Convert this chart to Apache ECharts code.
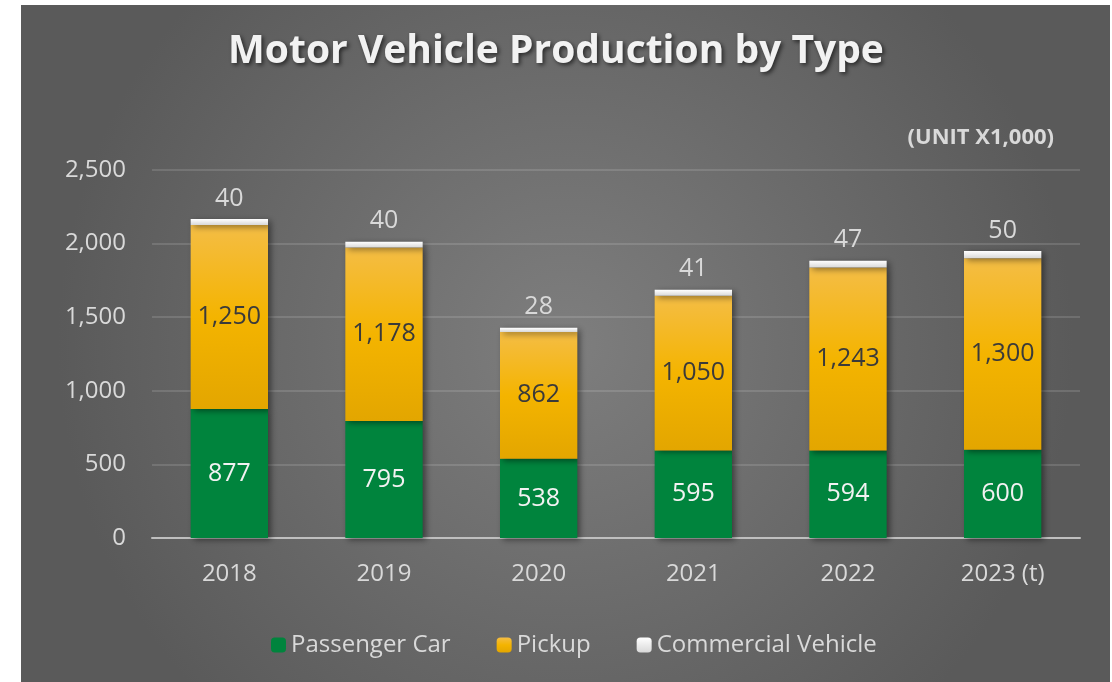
<!DOCTYPE html>
<html lang="en">
<head>
    <meta charset="UTF-8">
    <title>Motor Vehicle Production by Type</title>
    <script src="https://cdn.jsdelivr.net/npm/echarts@6/dist/echarts.min.js"></script>
    <style>
        html, body { margin: 0; padding: 0; background: #fff; }
    </style>
</head>
<body>
    <div id="main" style="width:1112px;height:682px;"></div>

<script>

var categories = ['2018', '2019', '2020', '2021', '2022', '2023 (t)'];
var passengerCar = [877, 795, 538, 595, 594, 600];
var pickup = [1250, 1178, 862, 1050, 1243, 1300];
var commercial = [40, 40, 28, 41, 47, 50];
var yTicks = [0, 500, 1000, 1500, 2000, 2500];

var FONT = 'Open Sans';
var LIGHT = '#d9d9d9';

var barShadow = {
    shadowColor: 'rgba(0,0,0,0.45)',
    shadowBlur: 6,
    shadowOffsetX: 3,
    shadowOffsetY: 2
};

function fmt(v) {
    return v.toLocaleString('en-US');
}

var myChart = echarts.init(document.getElementById('main'));

myChart.setOption({
    backgroundColor: '#ffffff',
    textStyle: { fontFamily: FONT },
    graphic: [{
        type: 'rect',
        z: -10,
        silent: true,
        shape: { x: 21, y: 5, width: 1089, height: 677 },
        style: {
            fill: new echarts.graphic.RadialGradient(0.5, 0.5, 0.75, [
                { offset: 0, color: '#7e7e7e' },
                { offset: 1, color: '#5a5a5a' }
            ])
        }
    }, {
        type: 'text',
        right: 58,
        top: 127,
        style: {
            text: '(UNIT X1,000)',
            fill: LIGHT,
            font: 'bold 22px "Open Sans"'
        }
    }],
    title: {
        text: 'Motor Vehicle Production by Type',
        left: 'center',
        top: 27,
        textStyle: {
            color: '#f2f2f2',
            fontSize: 39,
            fontWeight: 'bold',
            fontFamily: FONT,
            textShadowColor: 'rgba(0,0,0,0.6)',
            textShadowBlur: 4,
            textShadowOffsetX: 2,
            textShadowOffsetY: 2
        }
    },
    legend: {
        bottom: 20,
        left: 266,
        itemWidth: 15,
        itemHeight: 15,
        itemGap: 46,
        textStyle: { color: LIGHT, fontSize: 24, fontFamily: FONT },
        data: ['Passenger Car', 'Pickup', 'Commercial Vehicle']
    },
    grid: {
        left: 152,
        right: 32,
        top: 170,
        bottom: 144
    },
    xAxis: {
        type: 'category',
        data: categories,
        axisTick: { show: false },
        axisLine: { lineStyle: { color: '#bfbfbf', width: 2 } },
        axisLabel: { color: LIGHT, fontSize: 24, margin: 24, fontFamily: FONT }
    },
    yAxis: {
        type: 'value',
        min: yTicks[0],
        max: yTicks[yTicks.length - 1],
        interval: 500,
        axisLine: { show: false },
        axisTick: { show: false },
        axisLabel: {
            color: LIGHT,
            fontSize: 24,
            margin: 26,
            fontFamily: FONT,
            formatter: function (v) { return fmt(v); }
        },
        splitLine: { lineStyle: { color: 'rgba(255,255,255,0.13)', width: 2 } }
    },
    series: [{
        name: 'Passenger Car',
        type: 'bar',
        stack: 'total',
        barWidth: '50%',
        data: passengerCar,
        itemStyle: Object.assign({ color: '#00843d' }, barShadow),
        label: {
            show: true,
            position: 'inside',
            color: '#f2f2f2',
            fontSize: 25,
            fontFamily: FONT,
            formatter: function (p) { return fmt(p.value); }
        }
    }, {
        name: 'Pickup',
        type: 'bar',
        stack: 'total',
        data: pickup,
        itemStyle: Object.assign({
            color: new echarts.graphic.LinearGradient(0, 0, 0, 1, [
                { offset: 0, color: '#f4bd45' },
                { offset: 0.5, color: '#f4b400' },
                { offset: 1, color: '#e3a600' }
            ])
        }, barShadow),
        label: {
            show: true,
            position: 'inside',
            color: '#3a3a3a',
            fontSize: 25,
            fontFamily: FONT,
            formatter: function (p) { return fmt(p.value); }
        }
    }, {
        name: 'Commercial Vehicle',
        type: 'bar',
        stack: 'total',
        data: commercial,
        itemStyle: Object.assign({
            color: new echarts.graphic.LinearGradient(0, 0, 0, 1, [
                { offset: 0, color: '#ffffff' },
                { offset: 1, color: '#d8d8d8' }
            ])
        }, barShadow),
        label: {
            show: true,
            position: 'top',
            distance: 8,
            color: LIGHT,
            fontSize: 25,
            fontFamily: FONT,
            formatter: function (p) { return fmt(p.value); }
        }
    }]
});

</script>
</body>
</html>
